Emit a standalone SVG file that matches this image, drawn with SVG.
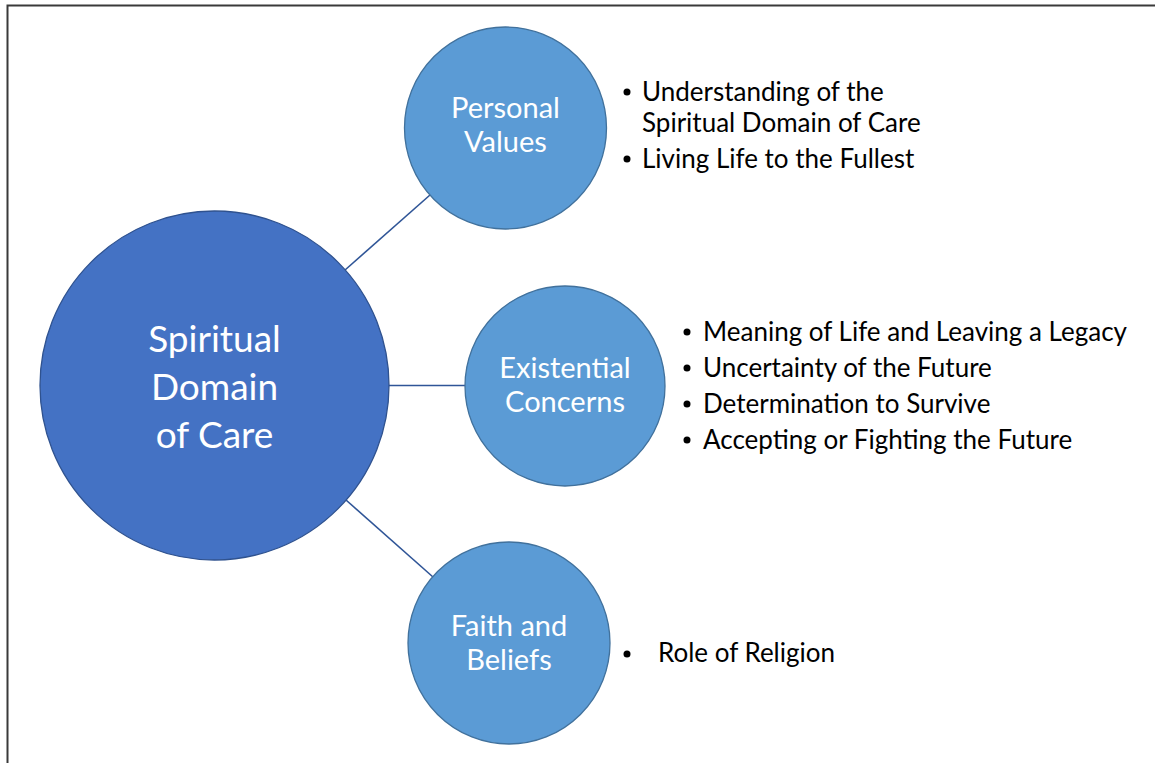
<svg xmlns="http://www.w3.org/2000/svg" width="1155" height="763" viewBox="0 0 1155 763">
<style>
.bg{fill:#ffffff}
.frame{fill:none;stroke:#3a3a3a;stroke-width:2}
.main{fill:#4472C4;stroke:#2F528F;stroke-width:1.3}
.sub{fill:#5B9BD5;stroke:#41719C;stroke-width:1.3}
.conn{stroke:#2F5597;stroke-width:1.6;fill:none}
.ct{font-family:Lato,"Open Sans","Liberation Sans",sans-serif;fill:#ffffff;text-anchor:middle}
.big{font-size:37px}
.mid{font-size:29px}
.bl{font-family:Lato,"Open Sans","Liberation Sans",sans-serif;fill:#000000;font-size:26px}
.dot{fill:#000000}
</style>
<rect class="bg" x="0" y="0" width="1155" height="763"/>
<path class="frame" d="M7.5,763 V5.5 H1155"/>
<g id="connectors">
<line class="conn" x1="345" y1="270" x2="430" y2="195"/>
<line class="conn" x1="389" y1="385.5" x2="465" y2="385.5"/>
<line class="conn" x1="346" y1="500" x2="433" y2="577"/>
</g>
<g id="node-spiritual">
<circle class="main" cx="214.5" cy="385.5" r="174.5"/>
<text class="ct big" x="214.5" y="352">Spiritual</text>
<text class="ct big" x="214.5" y="400">Domain</text>
<text class="ct big" x="214.5" y="448">of Care</text>
</g>
<g id="node-personal">
<circle class="sub" cx="505.5" cy="128" r="101"/>
<text class="ct mid" x="505.5" y="118">Personal</text>
<text class="ct mid" x="505.5" y="152">Values</text>
</g>
<g id="node-existential">
<circle class="sub" cx="565" cy="386" r="100"/>
<text class="ct mid" x="565" y="378">Existential</text>
<text class="ct mid" x="565" y="412">Concerns</text>
</g>
<g id="node-faith">
<circle class="sub" cx="509" cy="643" r="101"/>
<text class="ct mid" x="509" y="636">Faith and</text>
<text class="ct mid" x="509" y="670">Beliefs</text>
</g>
<g id="bullets-personal">
<circle class="dot" cx="627" cy="92" r="3.5"/>
<text class="bl" x="642" y="101">Understanding of the</text>
<text class="bl" x="642" y="132">Spiritual Domain of Care</text>
<circle class="dot" cx="627" cy="159" r="3.5"/>
<text class="bl" x="642" y="168">Living Life to the Fullest</text>
</g>
<g id="bullets-existential">
<circle class="dot" cx="687" cy="332" r="3.5"/>
<text class="bl" x="703" y="341">Meaning of Life and Leaving a Legacy</text>
<circle class="dot" cx="687" cy="368" r="3.5"/>
<text class="bl" x="703" y="377">Uncertainty of the Future</text>
<circle class="dot" cx="687" cy="404" r="3.5"/>
<text class="bl" x="703" y="413">Determination to Survive</text>
<circle class="dot" cx="687" cy="440" r="3.5"/>
<text class="bl" x="703" y="449">Accepting or Fighting the Future</text>
</g>
<g id="bullets-faith">
<circle class="dot" cx="627" cy="654" r="3.5"/>
<text class="bl" x="658" y="662">Role of Religion</text>
</g>
</svg>
